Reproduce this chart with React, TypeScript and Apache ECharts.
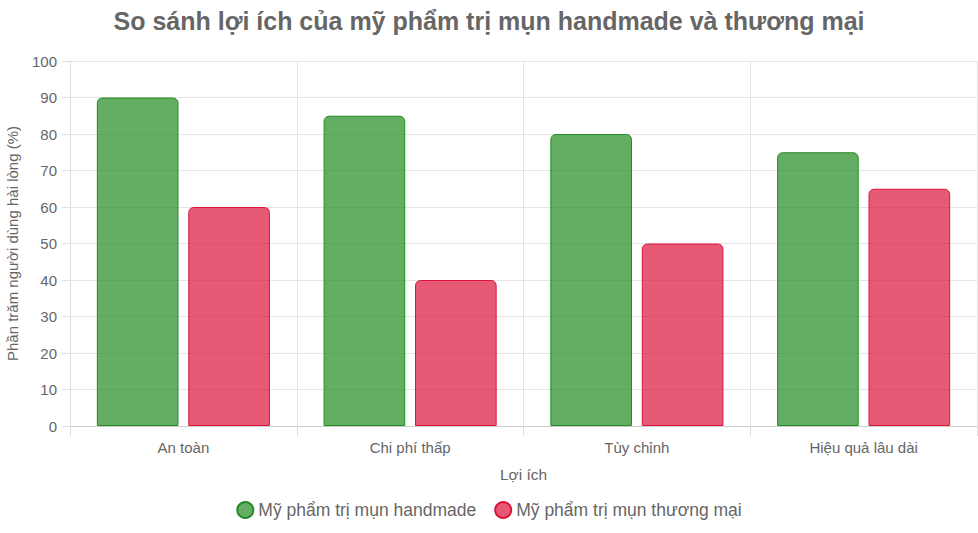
import React, { useEffect, useRef } from "react";
import * as echarts from "echarts";

const categories = ["An toàn", "Chi phí thấp", "Tùy chỉnh", "Hiệu quả lâu dài"];
const handmadeValues = [90, 85, 80, 75];
const commercialValues = [60, 40, 50, 65];
const seriesNames = ["Mỹ phẩm trị mụn handmade", "Mỹ phẩm trị mụn thương mại"];

const FONT = "'Liberation Sans', Arial, Helvetica, sans-serif";

export default function App() {
  const ref = useRef<HTMLDivElement>(null);
  useEffect(() => {
    if (!ref.current) return;
    const chart = echarts.init(ref.current, undefined, { renderer: "svg" });
    chart.setOption({
      animation: false,
      textStyle: { fontFamily: FONT },
      title: {
        text: "So sánh lợi ích của mỹ phẩm trị mụn handmade và thương mại",
        left: "center",
        top: 3,
        textStyle: { fontSize: 25, fontWeight: "bold", color: "#666", fontFamily: FONT },
      },
      legend: {
        bottom: 9,
        left: "center",
        icon: "circle",
        itemWidth: 16,
        itemHeight: 16,
        itemGap: 18,
        textStyle: { fontSize: 17.5, color: "#666", fontFamily: FONT },
        data: seriesNames,
      },
      grid: { left: 70, right: 1, top: 61, bottom: 107, containLabel: false, outerBoundsMode: "none" },
      xAxis: {
        type: "category",
        data: categories,
        name: "Lợi ích",
        nameLocation: "middle",
        nameGap: 40,
        nameTextStyle: { fontSize: 15.5, color: "#666", fontFamily: FONT },
        axisLine: { show: true, lineStyle: { color: "#ccc" } },
        axisTick: { show: true, length: 10, lineStyle: { color: "#e0e0e0" } },
        axisLabel: { fontSize: 15, color: "#666", margin: 14, fontFamily: FONT },
        splitLine: { show: true, lineStyle: { color: "#e5e5e5" } },
      },
      yAxis: {
        type: "value",
        min: 0,
        max: 100,
        interval: 10,
        name: "Phần trăm người dùng hài lòng (%)",
        nameLocation: "middle",
        nameGap: 50,
        nameTextStyle: { fontSize: 15, color: "#666", fontFamily: FONT },
        axisLine: { show: true, lineStyle: { color: "#ddd" } },
        axisTick: { show: true, length: 8, lineStyle: { color: "#e0e0e0" } },
        axisLabel: { fontSize: 15, color: "#666", margin: 13, fontFamily: FONT },
        splitLine: { show: true, lineStyle: { color: "#e5e5e5" } },
      },
      series: [
        {
          name: seriesNames[0],
          type: "bar",
          data: handmadeValues,
          barWidth: "36%",
          barGap: "12%",
          itemStyle: {
            color: "rgba(34,139,34,0.7)",
            borderColor: "#228B22",
            borderWidth: 1,
            borderRadius: [5, 5, 0, 0],
          },
        },
        {
          name: seriesNames[1],
          type: "bar",
          data: commercialValues,
          barWidth: "36%",
          barGap: "12%",
          itemStyle: {
            color: "rgba(220,20,60,0.7)",
            borderColor: "#DC143C",
            borderWidth: 1,
            borderRadius: [5, 5, 0, 0],
          },
        },
      ],
    });
    return () => chart.dispose();
  }, []);
  return <div ref={ref} style={{ width: 978, height: 533, position: "absolute", left: 0, top: 0 }} />;
}
